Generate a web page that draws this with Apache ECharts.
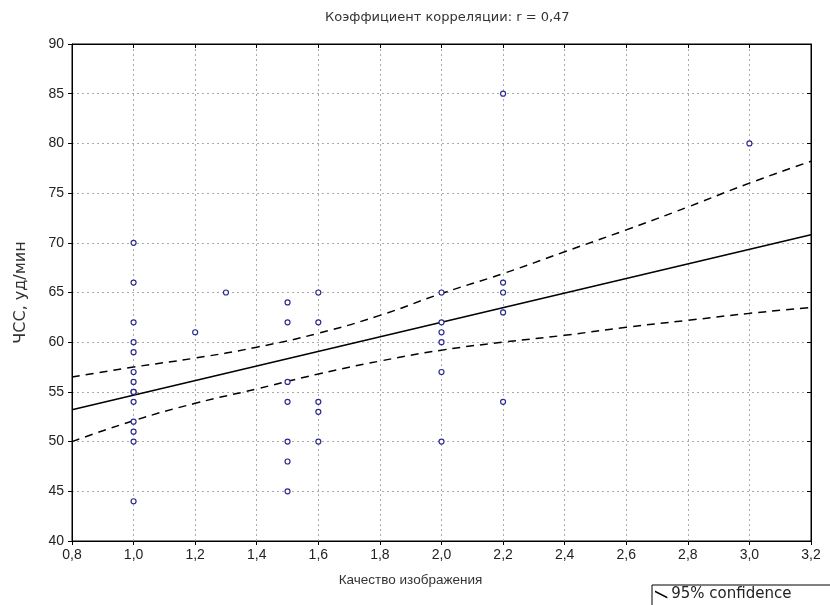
<!DOCTYPE html>
<html>
<head>
<meta charset="utf-8">
<script src="https://cdn.jsdelivr.net/npm/echarts@6/dist/echarts.min.js"></script>
<style>html,body{margin:0;padding:0;background:#fff}#c{width:830px;height:605px}</style>
</head>
<body>
<div id="c"></div>
<script>
// Scatter data: [quality, heart rate]
const pointsX10 = [70, 66, 62, 60, 59, 57, 56, 55, 55, 54, 52, 51, 50, 44];
const pointsX12 = [61];
const pointsX13 = [65];
const pointsX15 = [64, 62, 56, 54, 50, 48, 45];
const pointsX16 = [65, 62, 54, 53, 50];
const pointsX20 = [65, 62, 61, 60, 57, 50];
const pointsX22 = [85, 66, 65, 63, 54];
const pointsX30 = [80];

// Regression line endpoints
const regX = [0.8, 3.2];
const regY = [53.2, 70.8];

// 95% confidence bands
const bandX = [0.8, 1.0, 1.2, 1.4, 1.6, 1.8, 2.0, 2.2, 2.4, 2.6, 2.8, 3.0, 3.2];
const upperY = [56.5, 57.5, 58.4, 59.5, 60.9, 62.7, 64.9, 66.9, 69.1, 71.3, 73.6, 76.0, 78.2];
const lowerY = [50.0, 52.1, 53.85, 55.3, 56.8, 58.1, 59.2, 60.0, 60.7, 61.5, 62.2, 62.9, 63.5];

const titleText = 'Коэффициент корреляции: r = 0,47';
const xName = 'Качество изображения';
const yName = 'ЧСС, уд/мин';
const legendName = '95% confidence';

const groups = [[1.0, pointsX10], [1.2, pointsX12], [1.3, pointsX13], [1.5, pointsX15],
  [1.6, pointsX16], [2.0, pointsX20], [2.2, pointsX22], [3.0, pointsX30]];
const scatterData = [];
groups.forEach(g => g[1].forEach(v => scatterData.push([g[0], v])));

const zip = (a, b) => a.map((v, i) => [v, b[i]]);
const font = 'Liberation Sans, Arial, sans-serif';
const wide = 'DejaVu Sans, sans-serif';
const fmt = v => v.toFixed(1).replace('.', ',');

const chart = echarts.init(document.getElementById('c'));
chart.setOption({
  animation: false,
  title: {
    text: titleText, left: 320, top: 6,
    textStyle: { fontFamily: wide, fontSize: 13, fontWeight: 'normal', color: '#333' }
  },
  legend: {
    data: [{ name: legendName, icon: 'path://M0,0 L10,5 L10,6.5 L0,1.5 Z' }],
    left: 652, top: 585, itemWidth: 16, itemHeight: 8, itemGap: 2,
    borderColor: '#000', borderWidth: 1, padding: [2, 60, 6, 3],
    textStyle: { fontFamily: wide, fontSize: 15, color: '#222', padding: [0, 0, 0, -3] }
  },
  grid: { left: 72, right: 19, top: 44, bottom: 64, show: true, borderColor: '#000', borderWidth: 1 },
  xAxis: [{
    type: 'value', min: 0.8, max: 3.2, interval: 0.2,
    name: xName, nameLocation: 'middle', nameGap: 32,
    nameTextStyle: { fontFamily: font, fontSize: 13.5, color: '#333', padding: [0, 62, 0, 0] },
    axisLine: { show: true, onZero: false, lineStyle: { color: '#000' } },
    axisTick: { show: true, length: 4, lineStyle: { color: '#000' } },
    axisLabel: { formatter: fmt, fontFamily: font, fontSize: 14, color: '#222', margin: 7 },
    splitLine: { show: true, lineStyle: { color: '#aaa', type: [2, 3] } }
  }, {
    type: 'value', position: 'top', min: 0.8, max: 3.2, interval: 0.2,
    axisLine: { show: true, lineStyle: { color: '#000' } },
    axisTick: { show: true, inside: true, length: 4, lineStyle: { color: '#000' } },
    axisLabel: { show: false }, splitLine: { show: false }
  }],
  yAxis: [{
    type: 'value', min: 40, max: 90, interval: 5,
    name: yName, nameLocation: 'middle', nameGap: 43, nameRotate: 90,
    nameTextStyle: { fontFamily: wide, fontSize: 16, color: '#333' },
    axisLine: { show: true, onZero: false, lineStyle: { color: '#000' } },
    axisTick: { show: true, length: 4, lineStyle: { color: '#000' } },
    axisLabel: { fontFamily: font, fontSize: 14, color: '#222', margin: 8 },
    splitLine: { show: true, lineStyle: { color: '#aaa', type: [2, 3] } }
  }, {
    type: 'value', position: 'right', min: 40, max: 90, interval: 5,
    axisLine: { show: true, lineStyle: { color: '#000' } },
    axisTick: { show: true, inside: true, length: 4, lineStyle: { color: '#000' } },
    axisLabel: { show: false }, splitLine: { show: false }
  }],
  series: [
    {
      type: 'line', name: 'regression', data: zip(regX, regY), symbol: 'none',
      lineStyle: { color: '#000', width: 1.5 }, z: 3
    },
    {
      type: 'line', name: legendName, data: zip(bandX, upperY), symbol: 'none', smooth: true,
      itemStyle: { color: '#000' },
      lineStyle: { color: '#000', width: 1.5, type: [8, 6] }, z: 3
    },
    {
      type: 'line', name: legendName, data: zip(bandX, lowerY), symbol: 'none', smooth: true,
      itemStyle: { color: '#000' },
      lineStyle: { color: '#000', width: 1.5, type: [8, 6] }, z: 3
    },
    {
      type: 'scatter', name: 'points', data: scatterData, symbol: 'circle', symbolSize: 5,
      itemStyle: { color: '#fff', borderColor: '#2b2b8f', borderWidth: 1.2, opacity: 1 }, z: 4
    }
  ]
});
</script>
</body>
</html>
